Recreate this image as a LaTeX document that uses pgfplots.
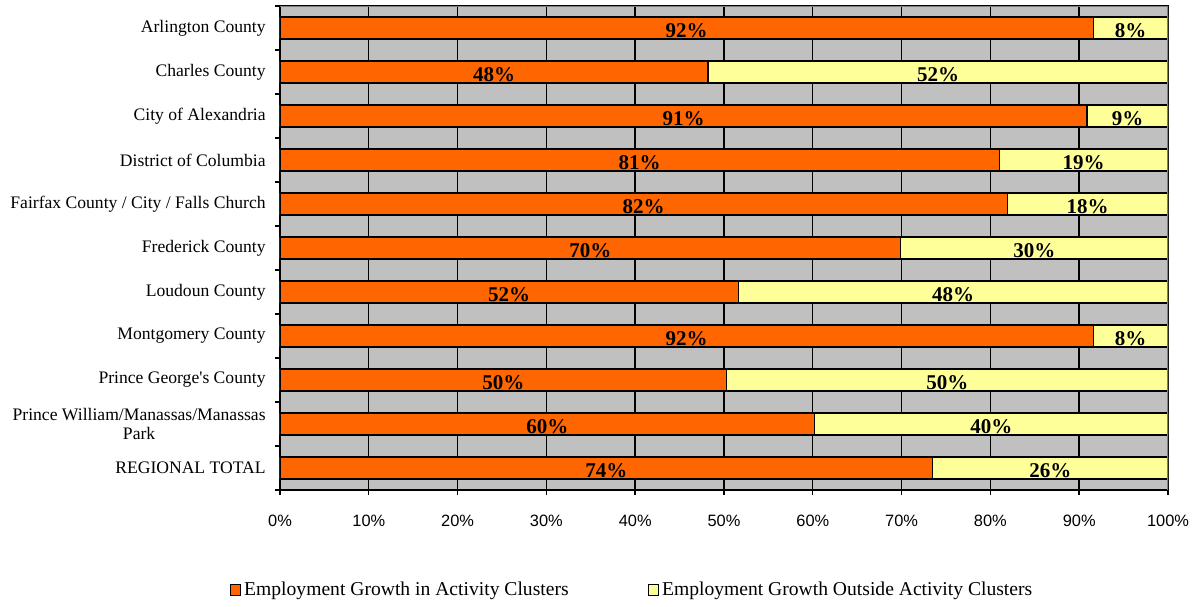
\documentclass[border=0pt]{standalone}
\usepackage{pgfplots}
\usepackage{pgfplotstable}
\pgfplotsset{compat=1.18}
\usepackage{fontspec}
\setmainfont{Liberation Serif}
\newfontfamily\arialf{Liberation Sans}

\definecolor{orng}{HTML}{FF6600}
\definecolor{ylw}{HTML}{FFFF99}
\definecolor{plotgray}{HTML}{C0C0C0}

% a = share in activity clusters, b = outside; la/lb = printed labels
\pgfplotstableread[col sep=comma]{
y,a,b,la,lb
0,91.6,8.4,92,8
1,48.2,51.8,48,52
2,90.9,9.1,91,9
3,81.0,19.0,81,19
4,81.9,18.1,82,18
5,69.9,30.1,70,30
6,51.6,48.4,52,48
7,91.6,8.4,92,8
8,50.3,49.7,50,50
9,60.2,39.8,60,40
10,73.5,26.5,74,26
}\shares

\begin{document}
\begin{tikzpicture}
\begin{axis}[
    name=ax,
    width=444pt, height=242pt,
    scale only axis,
    xmin=0, xmax=100,
    ymin=-0.5, ymax=10.5,
    y dir=reverse,
    axis background/.style={fill=plotgray},
    axis line style={line width=0.7pt},
    xtick={0,10,...,100},
    xticklabels={0\%,10\%,20\%,30\%,40\%,50\%,60\%,70\%,80\%,90\%,100\%},
    xtick pos=lower,
    ytick pos=left,
    tick align=outside,
    major tick length=2.5pt,
    xmajorgrids,
    grid style={black, line width=0.7pt},
    x tick style={black, line width=0.7pt},
    xticklabel style={font=\arialf\fontsize{8.2}{10}\selectfont, inner ysep=0pt, yshift=-10pt},
    ytick={0,...,10},
    y tick style={draw=none},
    yticklabels={Arlington County,Charles County,City of Alexandria,District of Columbia,
        Fairfax County / City / Falls Church,Frederick County,Loudoun County,Montgomery County,
        Prince George\textquotesingle s County,{Prince William/Manassas/Manassas\\Park},REGIONAL TOTAL},
    yticklabel style={font=\fontsize{8.8}{9.8}\selectfont, align=center, inner xsep=0pt, xshift=-4.5pt},
    extra y ticks={-0.5,0.5,...,10.5},
    extra y tick labels={},
    extra y tick style={y tick style={draw=black, line width=0.7pt}},
    legend image code/.code={\draw[#1, line width=0.5pt] (0pt,-2.6pt) rectangle (5.2pt,2.6pt);},
    reverse legend,
    legend style={draw=none, fill=none, at={(0.397,-0.2066)}, anchor=center,
        legend columns=2, font=\fontsize{9.8}{11}\selectfont,
        /tikz/every even column/.append style={column sep=38pt},
        nodes={inner xsep=1.5pt}},
]
\addplot[xbar, bar width=0.5, bar shift=0pt, fill=ylw, draw=black, line width=0.7pt]
    table[x expr=\thisrow{a}+\thisrow{b}, y=y] {\shares};
\addlegendentry{Employment Growth Outside Activity Clusters}
\addplot[xbar, bar width=0.5, bar shift=0pt, fill=orng, draw=black, line width=0.7pt]
    table[x=a, y=y] {\shares};
\addlegendentry{Employment Growth in Activity Clusters}

\addplot[draw=none, mark=none, forget plot, point meta=explicit symbolic,
    nodes near coords={\pgfplotspointmeta\%},
    nodes near coords style={anchor=center, yshift=-1.3pt, font=\bfseries\fontsize{10.5}{12}\selectfont}]
    table[x expr=\thisrow{a}/2, y=y, meta=la] {\shares};
\addplot[draw=none, mark=none, forget plot, point meta=explicit symbolic,
    nodes near coords={\pgfplotspointmeta\%},
    nodes near coords style={anchor=center, yshift=-1.3pt, font=\bfseries\fontsize{10.5}{12}\selectfont}]
    table[x expr=\thisrow{a}+\thisrow{b}/2, y=y, meta=lb] {\shares};

\draw[gray, line width=0.7pt] (rel axis cs:0,1) -- (rel axis cs:1,1) -- (rel axis cs:1,0);
\end{axis}
\pgfresetboundingbox
\path[use as bounding box] ([xshift=-140pt,yshift=-58pt]ax.south west)
    rectangle ([xshift=457.5pt,yshift=245pt]ax.south west);
\end{tikzpicture}
\end{document}
